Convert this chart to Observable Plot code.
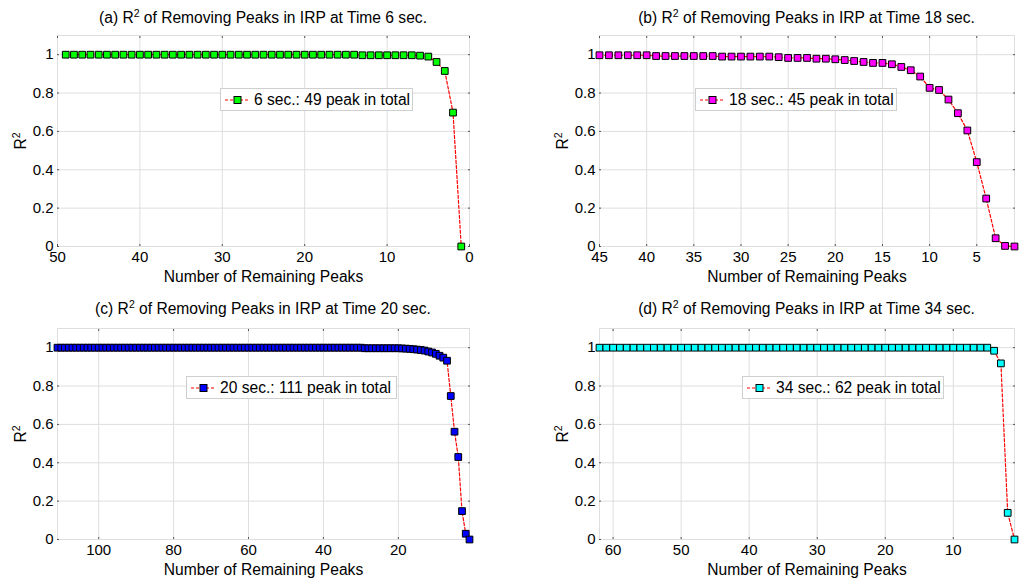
<!DOCTYPE html>
<html>
<head>
<meta charset="utf-8">
<script src="https://cdn.jsdelivr.net/npm/d3@7"></script>
<script src="https://cdn.jsdelivr.net/npm/@observablehq/plot@0.6"></script>
<style>
  html, body { margin: 0; padding: 0; background: #fff; }
  #wrap { position: relative; width: 1024px; height: 582px; overflow: hidden; background: #fff;
          font-family: "Liberation Sans", Arial, Helvetica, sans-serif; color: #000; }
  .panel { position: absolute; }
  .panel g[aria-label="x-axis label"] text { font-size: 15.6px; }
  .title { position: absolute; width: 440px; text-align: center; font-size: 15.6px; line-height: 17px; white-space: nowrap; }
  .ylab { position: absolute; font-size: 15.6px; line-height: 17px; transform: translate(-50%, -50%) rotate(-90deg); white-space: nowrap; }
  sup { font-size: 10.5px; line-height: 0; vertical-align: 0.55em; }
  .legend { position: absolute; box-sizing: border-box; border: 1px solid #cfcfcf; background: #fff;
            display: flex; align-items: center; font-size: 15.6px; white-space: nowrap; padding-left: 4px; }
  .legend svg { margin-right: 4px; flex: none; }
</style>
</head>
<body>
<div id="wrap"></div>
<script>
// ---------- data ----------
const yTicks = [0, 0.2, 0.4, 0.6, 0.8, 1];

const xTicksA = [50, 40, 30, 20, 10, 0];
const xTicksB = [45, 40, 35, 30, 25, 20, 15, 10, 5];
const xTicksC = [100, 80, 60, 40, 20];
const xTicksD = [60, 50, 40, 30, 20, 10];

// number of remaining peaks (from total down to 1)
const peaksA = d3.range(49, 0, -1);
const peaksB = d3.range(45, 0, -1);
const peaksC = d3.range(111, 0, -1);
const peaksD = d3.range(62, 0, -1);

// R^2 values, in the same order as the peaks arrays
const r2A = [
  1,1,1,1,1,1,1,1,1,1, 1,1,1,1,1,1,1,1,1,1, 1,1,1,1,1,1,1,1,1,1, 1,1,1,1,1,1,
  0.997,0.997,0.997,0.997,0.997,0.997,0.997,
  0.995,0.99,0.962,0.915,0.698,0
];
const r2B = [
  0.997,0.997,0.997,0.997,0.997,0.997,
  0.993,0.993,0.993,0.993,0.993,0.993,0.993,
  0.99,0.99,0.99,0.99,0.99,0.99,
  0.987,0.983,0.983,0.983,0.979,0.979,0.976,0.972,0.967,0.962,0.957,0.957,
  0.95,0.936,0.919,0.886,0.827,0.816,0.766,0.695,0.605,0.44,0.25,0.043,0.003,0
];
const r2C = [
  1,1,1,1,1,1,1,1,1,1, 1,1,1,1,1,1,1,1,1,1, 1,1,1,1,1,1,1,1,1,1,
  1,1,1,1,1,1,1,1,1,1, 1,1,1,1,1,1,1,1,1,1, 1,1,1,1,1,1,1,1,1,1,
  1,1,1,1,1,1,1,1,1,1, 1,1,1,1,1,1,1,1,1,1, 1,1,
  0.997,0.997,0.997,0.997,0.997,0.997,0.997,0.997,0.997,0.997,
  0.996,0.995,0.994,0.992,0.99,0.988,0.985,0.98,0.975,0.968,0.958,0.948,0.932,
  0.748,0.562,0.43,0.148,0.03,0
];
const r2D = [
  1,1,1,1,1,1,1,1,1,1, 1,1,1,1,1,1,1,1,1,1, 1,1,1,1,1,1,1,1,1,1,
  1,1,1,1,1,1,1,1,1,1, 1,1,1,1,1,1,1,1,1,1, 1,1,1,1,1,1,1,1,
  0.984,0.918,0.139,0
];

const titles = [
  "(a) R<sup>2</sup> of Removing Peaks in IRP at Time 6 sec.",
  "(b) R<sup>2</sup> of Removing Peaks in IRP at Time 18 sec.",
  "(c) R<sup>2</sup> of Removing Peaks in IRP at Time 20 sec.",
  "(d) R<sup>2</sup> of Removing Peaks in IRP at Time 34 sec."
];
const legendTexts = [
  "6 sec.: 49 peak in total",
  "18 sec.: 45 peak in total",
  "20 sec.: 111 peak in total",
  "34 sec.: 62 peak in total"
];
const colors = ["#00ff00", "#ff00ff", "#0000ff", "#00ffff"];
const xLabel = "Number of Remaining Peaks";

// ---------- layout ----------
const panels = [
  {peaks: peaksA, r2: r2A, xDomain: [50, 0], xTicks: xTicksA, left: 0, top: 0,
   m: {l: 57, r: 43, t: 35, b: 45}, legend: {x: 220, y: 88, w: 193, h: 23}},
  {peaks: peaksB, r2: r2B, xDomain: [45, 1], xTicks: xTicksB, left: 512, top: 0,
   m: {l: 87, r: 10, t: 35, b: 45}, legend: {x: 695, y: 88, w: 202, h: 23}},
  {peaks: peaksC, r2: r2C, xDomain: [111, 1], xTicks: xTicksC, left: 0, top: 291,
   m: {l: 57, r: 43, t: 37, b: 43}, legend: {x: 186, y: 376, w: 211, h: 23}},
  {peaks: peaksD, r2: r2D, xDomain: [62, 1], xTicks: xTicksD, left: 512, top: 291,
   m: {l: 87, r: 10, t: 37, b: 43}, legend: {x: 742, y: 376, w: 202, h: 23}}
];

const wrap = document.getElementById("wrap");
const W = 512, H = 291;
const fmt = d3.format("~g");

panels.forEach((p, i) => {
  const data = p.peaks.map((x, j) => ({x, y: p.r2[j]}));
  const gridColor = "#dedede";
  const tickColor = "#555";
  const svg = Plot.plot({
    width: W, height: H,
    marginLeft: p.m.l, marginRight: p.m.r, marginTop: p.m.t, marginBottom: p.m.b,
    style: {fontFamily: '"Liberation Sans", Arial, Helvetica, sans-serif', fontSize: "15px",
            background: "transparent", overflow: "visible", color: "#000"},
    x: {domain: p.xDomain},
    y: {domain: [0, 1.1]},
    marks: [
      Plot.gridX(p.xTicks, {stroke: gridColor, strokeOpacity: 1}),
      Plot.gridY(yTicks, {stroke: gridColor, strokeOpacity: 1}),
      Plot.frame({stroke: gridColor}),
      // tiny inward tick marks on all four sides
      Plot.axisX(p.xTicks, {anchor: "top", tickSize: 2, dy: 2, fill: "none", label: null, stroke: tickColor}),
      Plot.axisX(p.xTicks, {anchor: "bottom", tickSize: 2, dy: -2, fill: "none", label: null, stroke: tickColor}),
      Plot.axisY(yTicks, {anchor: "left", tickSize: 2, dx: 2, fill: "none", label: null, stroke: tickColor}),
      Plot.axisY(yTicks, {anchor: "right", tickSize: 2, dx: -2, fill: "none", label: null, stroke: tickColor}),
      // labelled axes
      Plot.axisX(p.xTicks, {anchor: "bottom", tickSize: 0, tickPadding: 5, tickFormat: fmt,
                            label: xLabel, labelAnchor: "center", labelOffset: 35, labelArrow: "none"}),
      Plot.axisY(yTicks, {anchor: "left", tickSize: 0, tickPadding: 4, tickFormat: fmt, label: null}),
      // series
      Plot.line(data, {x: "x", y: "y", stroke: "#ff0000", strokeWidth: 1.2, strokeDasharray: "3,2"}),
      Plot.dot(data, {x: "x", y: "y", symbol: "square", r: 3.8, fill: colors[i], fillOpacity: 1,
                      stroke: "#000", strokeWidth: 1})
    ]
  });
  svg.classList.add("panel");
  svg.style.left = p.left + "px";
  svg.style.top = p.top + "px";
  wrap.appendChild(svg);

  // title centred over plot area
  const cx = p.left + p.m.l + (W - p.m.l - p.m.r) / 2;
  const t = document.createElement("div");
  t.className = "title";
  t.innerHTML = titles[i];
  t.style.left = (cx - 220) + "px";
  t.style.top = (p.top + 9) + "px";
  wrap.appendChild(t);

  // y label
  const yl = document.createElement("div");
  yl.className = "ylab";
  yl.innerHTML = "R<sup>2</sup>";
  const cy = p.top + p.m.t + (H - p.m.t - p.m.b) / 2;
  yl.style.left = (p.left + p.m.l - 37) + "px";
  yl.style.top = cy + "px";
  wrap.appendChild(yl);

  // legend
  const lg = document.createElement("div");
  lg.className = "legend";
  lg.style.left = p.legend.x + "px";
  lg.style.top = p.legend.y + "px";
  lg.style.width = p.legend.w + "px";
  lg.style.height = p.legend.h + "px";
  lg.innerHTML =
    `<svg width="25" height="12"><line x1="0" x2="25" y1="6" y2="6" stroke="#ff0000" stroke-width="1.2" stroke-dasharray="3,2"/>` +
    `<rect x="9" y="2.5" width="7" height="7" fill="${colors[i]}" stroke="#000" stroke-width="1"/></svg>` +
    `<span>${legendTexts[i]}</span>`;
  wrap.appendChild(lg);
});
</script>
</body>
</html>
